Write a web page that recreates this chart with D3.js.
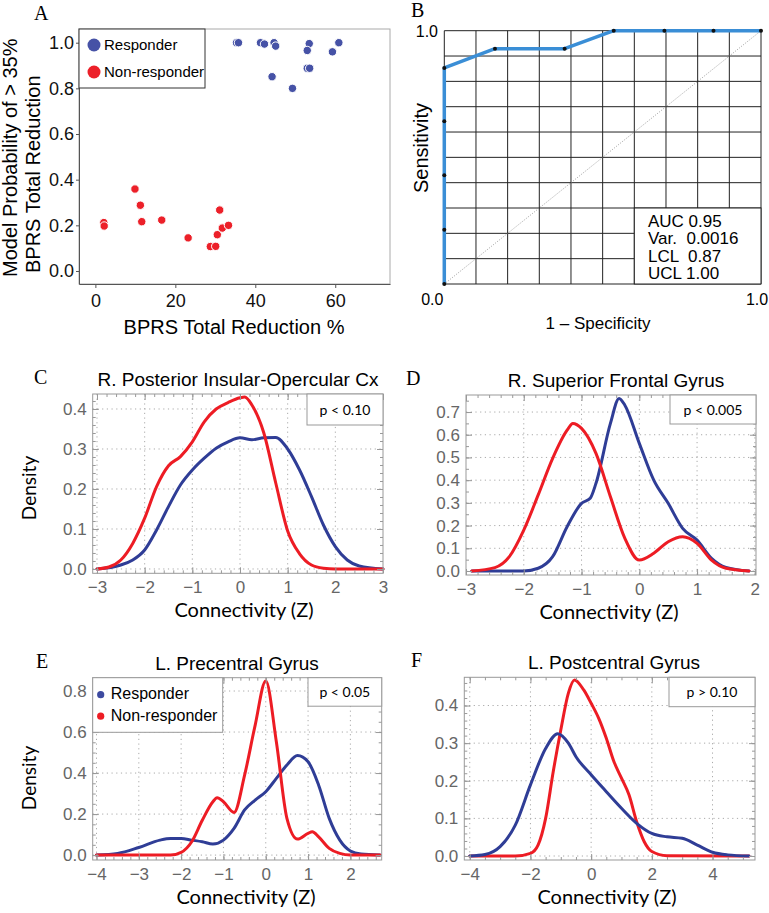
<!DOCTYPE html>
<html>
<head>
<meta charset="utf-8">
<script src="https://cdn.jsdelivr.net/npm/d3@7"></script>
<style>
  body { margin: 0; background: #fff; }
  svg text { font-family: "Liberation Sans", Arial, sans-serif; }
</style>
</head>
<body>
<svg width="769" height="913"></svg>
<script>
// ---- data ----
// A: model probability vs BPRS reduction
const respX = [35.3, 35.8, 41.3, 42.3, 44.7, 45.1, 53.5, 53.0, 60.9, 59.3, 53.0, 53.6, 44.2, 49.3];
const respY = [1.0, 1.0, 1.0, 0.994, 1.0, 0.985, 0.996, 0.966, 1.0, 0.96, 0.888, 0.888, 0.851, 0.80];
const nonX = [9.9, 11.25, 11.6, 16.6, 2.1, 2.2, 23.2, 28.75, 30.1, 30.5, 31.1, 31.75, 33.3];
const nonY = [0.359, 0.288, 0.216, 0.223, 0.212, 0.197, 0.145, 0.107, 0.108, 0.159, 0.267, 0.188, 0.200];
const groupNames = ["Responder", "Non-responder"];
const ticksAx = [0, 20, 40, 60];
const ticksAy = [0, 0.2, 0.4, 0.6, 0.8, 1.0];

// B: ROC
const rocFpr = [0, 0, 0, 0, 0, 0.16, 0.38, 0.535, 0.695, 0.85, 1.0];
const rocTpr = [0, 0.214, 0.429, 0.643, 0.853, 0.929, 0.929, 1, 1, 1, 1];
const rocStats = ["AUC 0.95", "Var.  0.0016", "LCL  0.87", "UCL 1.00"];

// C: R. Posterior Insular-Opercular Cx
const cRespX = [-3, -2.5, -2.25, -2, -1.75, -1.5, -1.25, -1, -0.75, -0.5, -0.25, 0, 0.25, 0.5, 0.75, 1, 1.25, 1.5, 1.75, 2, 2.25, 2.5, 3];
const cRespY = [0, 0.01, 0.0225, 0.0475, 0.0975, 0.156, 0.21, 0.2475, 0.277, 0.302, 0.318, 0.328, 0.323, 0.328, 0.329, 0.30, 0.2475, 0.181, 0.11, 0.056, 0.0225, 0.0075, 0];
const cNonX = [-3, -2.75, -2.5, -2.25, -2, -1.75, -1.5, -1.25, -1, -0.75, -0.5, -0.25, 0, 0.1, 0.25, 0.5, 0.75, 1, 1.25, 1.5, 1.75, 2, 3];
const cNonY = [0, 0.005, 0.0225, 0.064, 0.127, 0.206, 0.258, 0.281, 0.318, 0.368, 0.40, 0.416, 0.428, 0.43, 0.41, 0.34, 0.215, 0.095, 0.038, 0.01, 0.002, 0, 0];

// D: R. Superior Frontal Gyrus
const dRespX = [-2.9, -2, -1.75, -1.5, -1.25, -1, -0.85, -0.75, -0.5, -0.35, -0.25, 0, 0.25, 0.5, 0.75, 1, 1.25, 1.5, 1.9];
const dRespY = [0, 0, 0.012, 0.063, 0.195, 0.298, 0.32, 0.386, 0.65, 0.76, 0.73, 0.562, 0.40, 0.298, 0.188, 0.136, 0.056, 0.016, 0];
const dNonX = [-2.9, -2.5, -2.25, -2, -1.75, -1.5, -1.25, -1.15, -1, -0.75, -0.5, -0.25, 0, 0.25, 0.5, 0.75, 1, 1.25, 1.5, 1.9];
const dNonY = [0, 0.015, 0.063, 0.18, 0.335, 0.496, 0.62, 0.65, 0.628, 0.518, 0.327, 0.144, 0.048, 0.078, 0.129, 0.151, 0.122, 0.048, 0.012, 0];

// E: L. Precentral Gyrus
const eRespX = [-4, -3.5, -3, -2.5, -2.25, -2, -1.75, -1.5, -1.25, -1, -0.75, -0.5, -0.25, 0, 0.25, 0.5, 0.75, 1, 1.25, 1.5, 1.75, 2, 2.25, 2.7];
const eRespY = [0, 0.008, 0.037, 0.073, 0.081, 0.081, 0.073, 0.065, 0.054, 0.073, 0.13, 0.22, 0.268, 0.309, 0.374, 0.439, 0.485, 0.455, 0.341, 0.179, 0.073, 0.02, 0.005, 0];
const eNonX = [-4, -2.25, -2, -1.75, -1.5, -1.25, -1.15, -1, -0.75, -0.5, -0.25, 0, 0.25, 0.5, 0.75, 1, 1.1, 1.25, 1.5, 1.75, 2, 2.7];
const eNonY = [0, 0, 0.013, 0.065, 0.17, 0.26, 0.28, 0.26, 0.208, 0.39, 0.634, 0.849, 0.553, 0.179, 0.078, 0.106, 0.114, 0.089, 0.033, 0.008, 0, 0];

// F: L. Postcentral Gyrus
const fRespX = [-4, -3.5, -3, -2.5, -2, -1.5, -1.1, -0.75, -0.5, 0, 0.5, 1, 1.5, 2, 2.5, 3, 3.5, 4, 4.5, 5.2];
const fRespY = [0, 0.004, 0.025, 0.082, 0.189, 0.286, 0.325, 0.30, 0.264, 0.216, 0.171, 0.127, 0.087, 0.06, 0.051, 0.047, 0.029, 0.01, 0.003, 0];
const fNonX = [-4, -2.5, -2, -1.75, -1.5, -1.25, -1, -0.75, -0.55, -0.25, 0, 0.25, 0.5, 0.75, 1, 1.25, 1.5, 1.75, 2, 2.5, 5.2];
const fNonY = [0, 0, 0.007, 0.029, 0.1, 0.224, 0.335, 0.433, 0.468, 0.442, 0.406, 0.366, 0.313, 0.251, 0.207, 0.162, 0.091, 0.038, 0.012, 0.001, 0];

const BLUE = "#2f3d96", RED = "#ed1c24";
const svg = d3.select("svg");

function zip(xs, ys) { return xs.map((v, i) => [v, ys[i]]); }

function panelLetter(t, x, y) {
  svg.append("text").attr("x", x).attr("y", y).text(t)
    .style("font-family", "'Liberation Serif', 'DejaVu Serif', serif")
    .style("font-size", "20px");
}

// ---- A: scatter ----
const xA = d3.scaleLinear().domain([-4.1, 73.7]).range([79, 390]);
const yA = d3.scaleLinear().domain([-0.057, 1.06]).range([284, 29]);
const gA = svg.append("g");

gA.append("rect").attr("x", 79).attr("y", 29).attr("width", 311).attr("height", 255)
  .attr("fill", "none").attr("stroke", "#aaa");

const axA1 = gA.append("g").attr("transform", "translate(79,0)")
  .call(d3.axisLeft(yA).tickValues(ticksAy).tickFormat(d3.format(".1f")).tickSize(3).tickSizeOuter(0).tickPadding(2));
const axA2 = gA.append("g").attr("transform", "translate(0,284)")
  .call(d3.axisBottom(xA).tickValues(ticksAx).tickSize(4).tickSizeOuter(0).tickPadding(6));
[axA1, axA2].forEach(a => {
  a.select(".domain").attr("stroke", "#555");
  a.selectAll(".tick line").attr("stroke", "#555");
  a.selectAll("text").style("font-size", "18px").attr("fill", "#111");
});

gA.selectAll(".pn").data(zip(nonX, nonY)).join("circle")
  .attr("cx", d => xA(d[0])).attr("cy", d => yA(d[1])).attr("r", 4.2)
  .attr("fill", "#ec2029").attr("stroke", "#fff").attr("stroke-width", 1);
gA.selectAll(".pr").data(zip(respX, respY)).join("circle")
  .attr("cx", d => xA(d[0])).attr("cy", d => yA(d[1])).attr("r", 4.2)
  .attr("fill", "#4652a6").attr("stroke", "#fff").attr("stroke-width", 1);

// legend A
gA.append("rect").attr("x", 79).attr("y", 29).attr("width", 126).attr("height", 59)
  .attr("fill", "#fff").attr("stroke", "#333");
groupNames.forEach((n, i) => {
  gA.append("circle").attr("cx", 94).attr("cy", 45 + i * 27).attr("r", 6.5)
    .attr("fill", i == 0 ? "#4652a6" : "#ec2029");
  gA.append("text").attr("x", 104).attr("y", 50 + i * 27).text(n).style("font-size", "15px");
});

gA.append("text").attr("transform", "translate(17,277) rotate(-90)")
  .text("Model Probability of > 35%").style("font-size", "20px");
gA.append("text").attr("transform", "translate(40,273) rotate(-90)")
  .text("BPRS Total Reduction").style("font-size", "20px");
gA.append("text").attr("x", 234).attr("y", 334).attr("text-anchor", "middle")
  .text("BPRS Total Reduction %").style("font-size", "20px");
panelLetter("A", 34, 20);

// ---- B: ROC ----
const xB = d3.scaleLinear().domain([0, 1]).range([444.3, 761]);
const yB = d3.scaleLinear().domain([0, 1]).range([284, 30.7]);
const gB = svg.append("g");
const gridB = d3.range(0, 11).map(i => i / 10);

gB.selectAll(".vx").data(gridB).join("line")
  .attr("x1", d => xB(d)).attr("x2", d => xB(d)).attr("y1", yB(0)).attr("y2", yB(1))
  .attr("stroke", "#222").attr("stroke-width", 1);
gB.selectAll(".hy").data(gridB).join("line")
  .attr("y1", d => yB(d)).attr("y2", d => yB(d)).attr("x1", xB(0)).attr("x2", xB(1))
  .attr("stroke", "#222").attr("stroke-width", 1);

// stats box
gB.append("rect").attr("x", xB(0.6)).attr("y", yB(0.3))
  .attr("width", xB(1) - xB(0.6)).attr("height", yB(0) - yB(0.3))
  .attr("fill", "#fff").attr("stroke", "#222");
rocStats.forEach((s, i) => {
  gB.append("text").attr("x", 648).attr("y", 227 + i * 17.3).text(s)
    .style("font-size", "17px").style("white-space", "pre");
});

gB.append("line").attr("x1", xB(0)).attr("y1", yB(0)).attr("x2", xB(1)).attr("y2", yB(1))
  .attr("stroke", "#888").attr("stroke-width", 0.8).attr("stroke-dasharray", "1,1.5");

const rocPts = zip(rocFpr, rocTpr);
gB.append("path").datum(rocPts)
  .attr("d", d3.line().x(d => xB(d[0])).y(d => yB(d[1])))
  .attr("fill", "none").attr("stroke", "#3a8ed6").attr("stroke-width", 3.5)
  .attr("stroke-linejoin", "round");
gB.selectAll(".rp").data(rocPts).join("circle")
  .attr("cx", d => xB(d[0])).attr("cy", d => yB(d[1])).attr("r", 2).attr("fill", "#111");

gB.append("text").attr("x", 438).attr("y", 37).attr("text-anchor", "end").text("1.0").style("font-size", "16px");
gB.append("text").attr("x", xB(0) - 12).attr("y", 305).attr("text-anchor", "middle").text("0.0").style("font-size", "16px");
gB.append("text").attr("x", xB(1) - 4).attr("y", 305).attr("text-anchor", "middle").text("1.0").style("font-size", "16px");
gB.append("text").attr("transform", "translate(428,148) rotate(-90)").attr("text-anchor", "middle")
  .text("Sensitivity").style("font-size", "20px");
gB.append("text").attr("x", 598).attr("y", 329).attr("text-anchor", "middle")
  .text("1 \u2013 Specificity").style("font-size", "17px");
panelLetter("B", 411, 17);

// ---- density panels ----
function densityPanel(cfg) {
  const x = d3.scaleLinear().domain(cfg.xd).range([cfg.left, cfg.right]);
  const y = d3.scaleLinear().domain(cfg.yd).range([cfg.bottom, cfg.top]);
  const g = svg.append("g");

  // dotted grid
  g.selectAll(".gx").data(cfg.xTicks.filter(v => v > cfg.xd[0] && v < cfg.xd[1])).join("line")
    .attr("x1", d => x(d)).attr("x2", d => x(d)).attr("y1", cfg.top).attr("y2", cfg.bottom)
    .attr("stroke", "#aaa").attr("stroke-dasharray", "1.2,3.5");
  g.selectAll(".gy").data(cfg.yTicks).join("line")
    .attr("y1", d => y(d)).attr("y2", d => y(d)).attr("x1", cfg.left).attr("x2", cfg.right)
    .attr("stroke", "#aaa").attr("stroke-dasharray", "1.2,3.5");

  // curves
  const line = d3.line().x(d => x(d[0])).y(d => y(d[1])).curve(d3.curveMonotoneX);
  cfg.series.forEach(s => {
    g.append("path").datum(zip(s.xs, s.ys)).attr("d", line)
      .attr("fill", "none").attr("stroke", s.color).attr("stroke-width", 3)
      .attr("stroke-linejoin", "round").attr("stroke-linecap", "round");
  });

  // frame + ticks
  g.append("rect").attr("x", cfg.left).attr("y", cfg.top)
    .attr("width", cfg.right - cfg.left).attr("height", cfg.bottom - cfg.top)
    .attr("fill", "none").attr("stroke", "#999");

  const xMinor = d3.range(Math.ceil(cfg.xd[0] / cfg.xm) * cfg.xm, cfg.xd[1], cfg.xm);
  const yMinor = d3.range(0, cfg.yd[1], cfg.ym);
  const xMajor = cfg.xTicks.filter(v => v >= cfg.xd[0] - 1e-9 && v <= cfg.xd[1]);
  const axes = [
    g.append("g").attr("transform", `translate(0,${cfg.bottom})`)
      .call(d3.axisBottom(x).tickValues(xMajor).tickFormat(d3.format("d")).tickSize(-6).tickPadding(8)),
    g.append("g").attr("transform", `translate(${cfg.left},0)`)
      .call(d3.axisLeft(y).tickValues(cfg.yTicks).tickFormat(d3.format(".1f")).tickSize(-6).tickPadding(6)),
    g.append("g").attr("transform", `translate(0,${cfg.top})`)
      .call(d3.axisTop(x).tickValues(xMajor).tickFormat("").tickSize(-6)),
    g.append("g").attr("transform", `translate(${cfg.right},0)`)
      .call(d3.axisRight(y).tickValues(cfg.yTicks).tickFormat("").tickSize(-6)),
    g.append("g").attr("transform", `translate(0,${cfg.bottom})`)
      .call(d3.axisBottom(x).tickValues(xMinor).tickFormat("").tickSize(-3)),
    g.append("g").attr("transform", `translate(0,${cfg.top})`)
      .call(d3.axisTop(x).tickValues(xMinor).tickFormat("").tickSize(-3)),
    g.append("g").attr("transform", `translate(${cfg.left},0)`)
      .call(d3.axisLeft(y).tickValues(yMinor).tickFormat("").tickSize(-3)),
    g.append("g").attr("transform", `translate(${cfg.right},0)`)
      .call(d3.axisRight(y).tickValues(yMinor).tickFormat("").tickSize(-3))
  ];
  axes.forEach(a => {
    a.select(".domain").remove();
    a.selectAll(".tick line").attr("stroke", "#999");
    a.selectAll("text").attr("fill", "#666").style("font-size", "17px");
  });

  // p-value box
  g.append("rect").attr("x", cfg.pLeft).attr("y", cfg.top)
    .attr("width", cfg.right - cfg.pLeft).attr("height", cfg.pH)
    .attr("fill", "#fff").attr("stroke", "#999");
  g.append("text").attr("x", (cfg.pLeft + cfg.right) / 2).attr("y", cfg.top + cfg.pH / 2 + 5)
    .attr("text-anchor", "middle").text(cfg.p)
    .style("font-family", "Lato, sans-serif").style("font-size", "14px");

  // titles & labels
  g.append("text").attr("x", cfg.titleX).attr("y", cfg.top - 8).attr("text-anchor", "middle")
    .text(cfg.title).style("font-size", "19px");
  g.append("text").attr("x", cfg.xLabX).attr("y", cfg.bottom + 44).attr("text-anchor", "middle")
    .text("Connectivity (Z)").style("font-family", "Lato, sans-serif").style("font-size", "20px");
  if (cfg.yLabY) {
    g.append("text").attr("transform", `translate(36,${cfg.yLabY}) rotate(-90)`)
      .attr("text-anchor", "middle").text("Density")
      .style("font-family", "Lato, sans-serif").style("font-size", "19px");
  }
  panelLetter(cfg.letter, cfg.letterX, cfg.top - 10);

  if (cfg.legend) {
    g.append("rect").attr("x", cfg.left).attr("y", cfg.top).attr("width", 130).attr("height", 54.6)
      .attr("fill", "#fff").attr("stroke", "#999");
    groupNames.forEach((n, i) => {
      g.append("circle").attr("cx", cfg.left + 8).attr("cy", cfg.top + 17 + i * 21.5).attr("r", 3.6)
        .attr("fill", i == 0 ? "#3d4aa0" : RED);
      g.append("text").attr("x", cfg.left + 18).attr("y", cfg.top + 21.5 + i * 21.5).text(n)
        .style("font-size", "16px");
    });
  }
}

densityPanel({
  letter: "C", letterX: 34, title: "R. Posterior Insular-Opercular Cx", titleX: 238, xLabX: 244, yLabY: 488,
  left: 92.7, right: 383, top: 394, bottom: 573.3,
  xd: [-3.09, 3.0], yd: [-0.0108, 0.4375], xTicks: [-3, -2, -1, 0, 1, 2, 3], yTicks: [0, 0.1, 0.2, 0.3, 0.4],
  xm: 0.2, ym: 0.02, p: "p < 0.10", pLeft: 307, pH: 31,
  series: [{ xs: cRespX, ys: cRespY, color: BLUE }, { xs: cNonX, ys: cNonY, color: RED }]
});
densityPanel({
  letter: "D", letterX: 406, title: "R. Superior Frontal Gyrus", titleX: 616, xLabX: 609,
  left: 466, right: 756, top: 395, bottom: 575,
  xd: [-3.0, 2.02], yd: [-0.0176, 0.775], xTicks: [-3, -2, -1, 0, 1, 2], yTicks: [0, 0.1, 0.2, 0.3, 0.4, 0.5, 0.6, 0.7],
  xm: 0.2, ym: 0.05, p: "p < 0.005", pLeft: 670, pH: 29,
  series: [{ xs: dRespX, ys: dRespY, color: BLUE }, { xs: dNonX, ys: dNonY, color: RED }]
});
densityPanel({
  letter: "E", letterX: 36, title: "L. Precentral Gyrus", titleX: 237, xLabX: 246, yLabY: 778, legend: true,
  left: 92.7, right: 381.7, top: 677.7, bottom: 860,
  xd: [-4.09, 2.74], yd: [-0.024, 0.865], xTicks: [-4, -3, -2, -1, 0, 1, 2], yTicks: [0, 0.2, 0.4, 0.6, 0.8],
  xm: 0.2, ym: 0.05, p: "p < 0.05", pLeft: 308, pH: 28.5,
  series: [{ xs: eRespX, ys: eRespY, color: BLUE }, { xs: eNonX, ys: eNonY, color: RED }]
});
densityPanel({
  letter: "F", letterX: 411, title: "L. Postcentral Gyrus", titleX: 614, xLabX: 607,
  left: 464.3, right: 755, top: 677.3, bottom: 860,
  xd: [-4.18, 5.4], yd: [-0.0106, 0.475], xTicks: [-4, -2, 0, 2, 4], yTicks: [0, 0.1, 0.2, 0.3, 0.4],
  xm: 0.5, ym: 0.02, p: "p > 0.10", pLeft: 669, pH: 29.4,
  series: [{ xs: fNonX, ys: fNonY, color: RED }, { xs: fRespX, ys: fRespY, color: BLUE }]
});
</script>
</body>
</html>
